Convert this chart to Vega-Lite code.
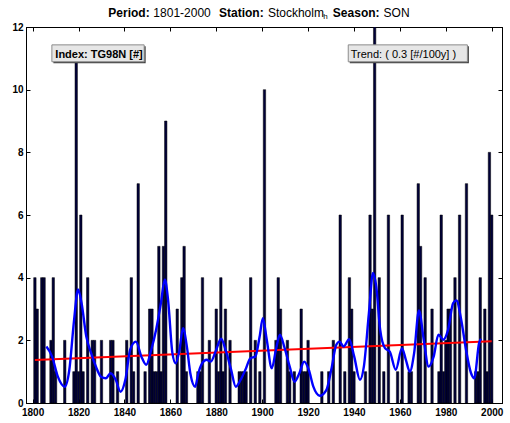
{
  "$schema": "https://vega.github.io/schema/vega-lite/v6.json",
  "width": 476,
  "height": 376,
  "autosize": {"type": "none"},
  "padding": {"left": 26, "top": 27, "right": 8, "bottom": 20},
  "background": "white",
  "config": {
    "view": {"stroke": "black", "strokeWidth": 1},
    "axis": {
      "grid": false,
      "domainColor": "black",
      "tickColor": "black",
      "labelColor": "black",
      "labelFont": "Liberation Sans",
      "labelFontWeight": "bold",
      "labelFontSize": 10,
      "tickSize": -4,
      "title": null
    }
  },
  "resolve": {"axis": {"x": "independent", "y": "independent"}},
  "layer": [
    {
      "data": {"values": [
        {"year": 1801, "count": 4}, {"year": 1802, "count": 3}, {"year": 1804, "count": 4}, {"year": 1805, "count": 4},
        {"year": 1808, "count": 2}, {"year": 1809, "count": 4}, {"year": 1810, "count": 1}, {"year": 1814, "count": 2},
        {"year": 1818, "count": 1}, {"year": 1819, "count": 11}, {"year": 1820, "count": 1}, {"year": 1821, "count": 6},
        {"year": 1822, "count": 1}, {"year": 1824, "count": 4}, {"year": 1826, "count": 2}, {"year": 1827, "count": 2},
        {"year": 1830, "count": 2}, {"year": 1834, "count": 2}, {"year": 1835, "count": 2}, {"year": 1837, "count": 1},
        {"year": 1841, "count": 2}, {"year": 1843, "count": 4}, {"year": 1844, "count": 1}, {"year": 1846, "count": 7},
        {"year": 1849, "count": 1}, {"year": 1851, "count": 3}, {"year": 1852, "count": 3}, {"year": 1853, "count": 1},
        {"year": 1854, "count": 1}, {"year": 1855, "count": 5}, {"year": 1856, "count": 1}, {"year": 1857, "count": 5},
        {"year": 1858, "count": 9}, {"year": 1863, "count": 3}, {"year": 1865, "count": 4}, {"year": 1866, "count": 5},
        {"year": 1867, "count": 1}, {"year": 1872, "count": 1}, {"year": 1873, "count": 1}, {"year": 1874, "count": 4},
        {"year": 1877, "count": 2}, {"year": 1880, "count": 3}, {"year": 1881, "count": 1}, {"year": 1882, "count": 4},
        {"year": 1883, "count": 1}, {"year": 1884, "count": 3}, {"year": 1886, "count": 2}, {"year": 1890, "count": 1},
        {"year": 1891, "count": 1}, {"year": 1892, "count": 1}, {"year": 1893, "count": 1}, {"year": 1895, "count": 4},
        {"year": 1897, "count": 2}, {"year": 1899, "count": 1}, {"year": 1901, "count": 10}, {"year": 1906, "count": 2},
        {"year": 1907, "count": 4}, {"year": 1908, "count": 3}, {"year": 1911, "count": 2}, {"year": 1912, "count": 1},
        {"year": 1914, "count": 1}, {"year": 1917, "count": 3}, {"year": 1918, "count": 1}, {"year": 1919, "count": 1},
        {"year": 1920, "count": 2}, {"year": 1926, "count": 1}, {"year": 1929, "count": 1}, {"year": 1931, "count": 2},
        {"year": 1934, "count": 6}, {"year": 1936, "count": 1}, {"year": 1938, "count": 4}, {"year": 1939, "count": 3},
        {"year": 1940, "count": 1}, {"year": 1945, "count": 1}, {"year": 1947, "count": 6}, {"year": 1948, "count": 3},
        {"year": 1949, "count": 13}, {"year": 1951, "count": 4}, {"year": 1953, "count": 1}, {"year": 1955, "count": 6},
        {"year": 1959, "count": 1}, {"year": 1961, "count": 6}, {"year": 1964, "count": 1}, {"year": 1965, "count": 1},
        {"year": 1968, "count": 7}, {"year": 1969, "count": 5}, {"year": 1971, "count": 4}, {"year": 1974, "count": 3},
        {"year": 1977, "count": 1}, {"year": 1978, "count": 6}, {"year": 1979, "count": 1}, {"year": 1980, "count": 2},
        {"year": 1981, "count": 3}, {"year": 1982, "count": 3}, {"year": 1984, "count": 4}, {"year": 1986, "count": 6},
        {"year": 1989, "count": 7}, {"year": 1993, "count": 1}, {"year": 1994, "count": 1}, {"year": 1995, "count": 4},
        {"year": 1997, "count": 3}, {"year": 1998, "count": 1}, {"year": 1999, "count": 8}, {"year": 2000, "count": 6}
      ]},
      "mark": {"type": "bar", "size": 2.4, "fill": "#000038", "stroke": "black", "strokeWidth": 0.5, "clip": true},
      "encoding": {
        "x": {"field": "year", "type": "quantitative",
              "scale": {"domain": [1799.3, 2002.3], "nice": false, "zero": false},
              "axis": {"orient": "bottom", "values": [1800, 1820, 1840, 1860, 1880, 1900, 1920, 1940, 1960, 1980, 2000],
                       "format": "d", "labelFlush": false, "labelPadding": 8.5}},
        "y": {"field": "count", "type": "quantitative",
              "scale": {"domain": [0, 12], "nice": false},
              "axis": {"orient": "left", "values": [0, 2, 4, 6, 8, 10, 12], "labelPadding": 7}}
      }
    },
    {
      "data": {"values": [
        {"year": 1801, "trend": 1.37},
        {"year": 2000, "trend": 1.97}
      ]},
      "mark": {"type": "line", "color": "#ff0000", "strokeWidth": 2},
      "encoding": {
        "x": {"field": "year", "type": "quantitative",
              "axis": {"orient": "top", "values": [1800, 1820, 1840, 1860, 1880, 1900, 1920, 1940, 1960, 1980, 2000], "labels": false}},
        "y": {"field": "trend", "type": "quantitative",
              "axis": {"orient": "right", "values": [0, 2, 4, 6, 8, 10, 12], "labels": false}}
      }
    },
    {
      "data": {"values": [
        {"year": 1806, "smooth": 1.8}, {"year": 1808.5, "smooth": 1.48}, {"year": 1811, "smooth": 0.84}, {"year": 1814, "smooth": 0.52},
        {"year": 1816, "smooth": 1.06}, {"year": 1818, "smooth": 2.6}, {"year": 1819.8, "smooth": 3.62}, {"year": 1821.3, "smooth": 3.2},
        {"year": 1823.4, "smooth": 2.12}, {"year": 1825.5, "smooth": 1.59}, {"year": 1827.6, "smooth": 1.16}, {"year": 1829.8, "smooth": 0.84},
        {"year": 1831.9, "smooth": 0.79}, {"year": 1834, "smooth": 0.95}, {"year": 1836.2, "smooth": 0.74}, {"year": 1838.3, "smooth": 0.36},
        {"year": 1840.4, "smooth": 0.74}, {"year": 1842.5, "smooth": 1.7}, {"year": 1845, "smooth": 1.96}, {"year": 1847.4, "smooth": 1.48},
        {"year": 1849.5, "smooth": 1.22}, {"year": 1851.7, "smooth": 1.7}, {"year": 1853.8, "smooth": 2.34}, {"year": 1855.9, "smooth": 3.19},
        {"year": 1857.6, "smooth": 3.94}, {"year": 1859, "smooth": 3.3}, {"year": 1860.9, "smooth": 1.59}, {"year": 1862.3, "smooth": 1.27},
        {"year": 1864, "smooth": 1.7}, {"year": 1865.5, "smooth": 2.39}, {"year": 1867.2, "smooth": 1.8}, {"year": 1868.7, "smooth": 0.95},
        {"year": 1870.8, "smooth": 0.52}, {"year": 1872.2, "smooth": 0.95}, {"year": 1873.9, "smooth": 1.27}, {"year": 1875.8, "smooth": 1.38},
        {"year": 1877.6, "smooth": 1.32}, {"year": 1880, "smooth": 1.7}, {"year": 1882.1, "smooth": 2.05}, {"year": 1884.2, "smooth": 1.66},
        {"year": 1886.4, "smooth": 1.08}, {"year": 1888.5, "smooth": 0.52}, {"year": 1890.6, "smooth": 0.74}, {"year": 1892.7, "smooth": 1.06},
        {"year": 1894.9, "smooth": 1.43}, {"year": 1897, "smooth": 1.48}, {"year": 1898.9, "smooth": 2.12}, {"year": 1900.3, "smooth": 2.71},
        {"year": 1902, "smooth": 2.02}, {"year": 1904.2, "smooth": 1.11}, {"year": 1906, "smooth": 1.7}, {"year": 1907.7, "smooth": 2.18},
        {"year": 1909.8, "smooth": 1.75}, {"year": 1912, "smooth": 1.16}, {"year": 1914.1, "smooth": 0.68}, {"year": 1916.2, "smooth": 0.95},
        {"year": 1918.3, "smooth": 1.32}, {"year": 1920.3, "smooth": 1.06}, {"year": 1922.3, "smooth": 0.52}, {"year": 1925.1, "smooth": 0.23},
        {"year": 1928, "smooth": 0.42}, {"year": 1930.1, "smooth": 1.06}, {"year": 1932.3, "smooth": 1.86}, {"year": 1933.7, "smooth": 1.96},
        {"year": 1935.5, "smooth": 1.8}, {"year": 1937.9, "smooth": 2.04}, {"year": 1940.1, "smooth": 1.48}, {"year": 1942.6, "smooth": 0.74},
        {"year": 1944.3, "smooth": 1.16}, {"year": 1946.5, "smooth": 2.87}, {"year": 1948.3, "smooth": 4.15}, {"year": 1949.7, "smooth": 3.72},
        {"year": 1951.4, "smooth": 2.34}, {"year": 1953.5, "smooth": 1.75}, {"year": 1955.6, "smooth": 1.64}, {"year": 1958.2, "smooth": 1.06},
        {"year": 1960.9, "smooth": 1.75}, {"year": 1962.6, "smooth": 1.38}, {"year": 1964.3, "smooth": 1.0}, {"year": 1966.2, "smooth": 1.59},
        {"year": 1968.3, "smooth": 2.95}, {"year": 1970.4, "smooth": 2.02}, {"year": 1972.5, "smooth": 1.16}, {"year": 1974.7, "smooth": 1.48},
        {"year": 1976.8, "smooth": 2.18}, {"year": 1978.9, "smooth": 2.02}, {"year": 1981, "smooth": 2.34}, {"year": 1983.2, "smooth": 3.19},
        {"year": 1984.6, "smooth": 3.27}, {"year": 1986.7, "smooth": 2.66}, {"year": 1988.8, "smooth": 1.7}, {"year": 1991, "smooth": 0.95},
        {"year": 1992.4, "smooth": 0.79}, {"year": 1994.5, "smooth": 1.91}, {"year": 1995.3, "smooth": 2.05}
      ]},
      "mark": {"type": "line", "color": "#0000ff", "strokeWidth": 2.4, "interpolate": "monotone"},
      "encoding": {
        "x": {"field": "year", "type": "quantitative", "axis": null},
        "y": {"field": "smooth", "type": "quantitative", "axis": null}
      }
    },
    {
      "data": {"values": [{}]},
      "mark": {"type": "rect", "fill": "#404040", "xOffset": 1.5, "x2Offset": 1.5, "yOffset": 1.5, "y2Offset": 1.5},
      "encoding": {
        "x": {"datum": 1808.4, "type": "quantitative", "axis": null},
        "x2": {"datum": 1848.6},
        "y": {"datum": 11.43, "type": "quantitative", "axis": null},
        "y2": {"datum": 10.89}
      }
    },
    {
      "data": {"values": [{}]},
      "mark": {"type": "rect", "fill": "#e6e6e6", "stroke": "#8c8c8c", "strokeWidth": 1},
      "encoding": {
        "x": {"datum": 1808.4, "type": "quantitative", "axis": null},
        "x2": {"datum": 1848.6},
        "y": {"datum": 11.43, "type": "quantitative", "axis": null},
        "y2": {"datum": 10.89}
      }
    },
    {
      "data": {"values": [{}]},
      "mark": {"type": "text", "text": "Index: TG98N [#]", "font": "Liberation Sans", "fontSize": 11, "fontWeight": "bold", "align": "left", "baseline": "alphabetic", "color": "black"},
      "encoding": {
        "x": {"datum": 1809.9, "type": "quantitative", "axis": null},
        "y": {"datum": 11.02, "type": "quantitative", "axis": null}
      }
    },
    {
      "data": {"values": [{}]},
      "mark": {"type": "rect", "fill": "#404040", "xOffset": 1.5, "x2Offset": 1.5, "yOffset": 1.5, "y2Offset": 1.5},
      "encoding": {
        "x": {"datum": 1937.5, "type": "quantitative", "axis": null},
        "x2": {"datum": 1989.4},
        "y": {"datum": 11.43, "type": "quantitative", "axis": null},
        "y2": {"datum": 10.89}
      }
    },
    {
      "data": {"values": [{}]},
      "mark": {"type": "rect", "fill": "#e6e6e6", "stroke": "#8c8c8c", "strokeWidth": 1},
      "encoding": {
        "x": {"datum": 1937.5, "type": "quantitative", "axis": null},
        "x2": {"datum": 1989.4},
        "y": {"datum": 11.43, "type": "quantitative", "axis": null},
        "y2": {"datum": 10.89}
      }
    },
    {
      "data": {"values": [{}]},
      "mark": {"type": "text", "text": "Trend: (  0.3 [#/100y]  )", "font": "Liberation Sans", "fontSize": 11, "align": "left", "baseline": "alphabetic", "color": "black"},
      "encoding": {
        "x": {"datum": 1938.6, "type": "quantitative", "axis": null},
        "y": {"datum": 11.02, "type": "quantitative", "axis": null}
      }
    },
    {
      "data": {"values": [{}]},
      "mark": {"type": "text", "text": "Period:", "font": "Liberation Sans", "fontSize": 12, "fontWeight": "bold", "align": "left", "baseline": "alphabetic", "color": "black"},
      "encoding": {
        "x": {"datum": 1833.0, "type": "quantitative", "axis": null},
        "y": {"datum": 12.32, "type": "quantitative", "axis": null}
      }
    },
    {
      "data": {"values": [{}]},
      "mark": {"type": "text", "text": "1801-2000", "font": "Liberation Sans", "fontSize": 12, "align": "left", "baseline": "alphabetic", "color": "black"},
      "encoding": {
        "x": {"datum": 1852.6, "type": "quantitative", "axis": null},
        "y": {"datum": 12.32, "type": "quantitative", "axis": null}
      }
    },
    {
      "data": {"values": [{}]},
      "mark": {"type": "text", "text": "Station:", "font": "Liberation Sans", "fontSize": 12, "fontWeight": "bold", "align": "left", "baseline": "alphabetic", "color": "black"},
      "encoding": {
        "x": {"datum": 1881.2, "type": "quantitative", "axis": null},
        "y": {"datum": 12.32, "type": "quantitative", "axis": null}
      }
    },
    {
      "data": {"values": [{}]},
      "mark": {"type": "text", "text": "Stockholm", "font": "Liberation Sans", "fontSize": 12, "align": "left", "baseline": "alphabetic", "color": "black"},
      "encoding": {
        "x": {"datum": 1902.5, "type": "quantitative", "axis": null},
        "y": {"datum": 12.32, "type": "quantitative", "axis": null}
      }
    },
    {
      "data": {"values": [{}]},
      "mark": {"type": "text", "text": "h", "font": "Liberation Sans", "fontSize": 8, "align": "left", "baseline": "alphabetic", "color": "black"},
      "encoding": {
        "x": {"datum": 1926.6, "type": "quantitative", "axis": null},
        "y": {"datum": 12.245, "type": "quantitative", "axis": null}
      }
    },
    {
      "data": {"values": [{}]},
      "mark": {"type": "text", "text": "Season:", "font": "Liberation Sans", "fontSize": 12, "fontWeight": "bold", "align": "left", "baseline": "alphabetic", "color": "black"},
      "encoding": {
        "x": {"datum": 1930.8, "type": "quantitative", "axis": null},
        "y": {"datum": 12.32, "type": "quantitative", "axis": null}
      }
    },
    {
      "data": {"values": [{}]},
      "mark": {"type": "text", "text": "SON", "font": "Liberation Sans", "fontSize": 12, "align": "left", "baseline": "alphabetic", "color": "black"},
      "encoding": {
        "x": {"datum": 1952.9, "type": "quantitative", "axis": null},
        "y": {"datum": 12.32, "type": "quantitative", "axis": null}
      }
    }
  ]
}
